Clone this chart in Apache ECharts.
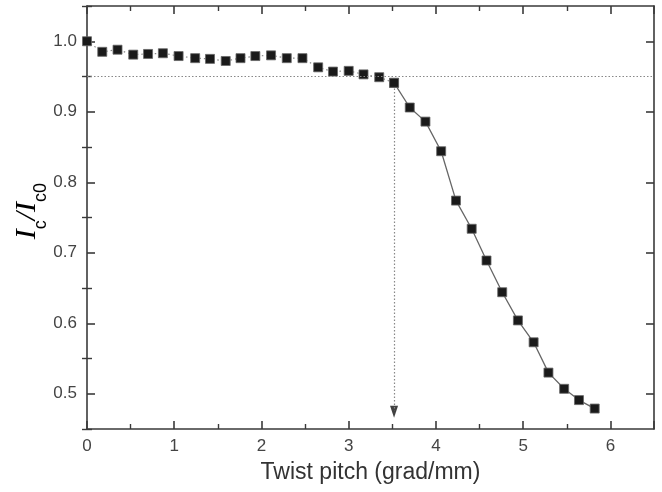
<!DOCTYPE html>
<html>
<head>
<meta charset="utf-8">
<script src="https://cdn.jsdelivr.net/npm/echarts@6/dist/echarts.min.js"></script>
<style>html,body{margin:0;padding:0;background:#fff}#c{width:662px;height:492px}</style>
</head>
<body>
<div id="c"></div>
<script>
// Plateau region (dotted connector)
var xFlat = [0, 0.175, 0.35, 0.53, 0.70, 0.87, 1.05, 1.24, 1.41, 1.59, 1.76, 1.93, 2.11, 2.29, 2.47, 2.65, 2.82, 3.00, 3.17, 3.35, 3.52];
var yFlat = [1.0, 0.985, 0.988, 0.981, 0.982, 0.983, 0.979, 0.976, 0.975, 0.972, 0.976, 0.979, 0.980, 0.976, 0.976, 0.963, 0.957, 0.958, 0.953, 0.949, 0.941];
// Degradation region (solid connector)
var xDrop = [3.52, 3.70, 3.88, 4.06, 4.23, 4.41, 4.58, 4.76, 4.94, 5.12, 5.29, 5.47, 5.64, 5.82];
var yDrop = [0.941, 0.906, 0.886, 0.844, 0.774, 0.734, 0.689, 0.644, 0.604, 0.573, 0.530, 0.507, 0.491, 0.479];
var criterion = 0.95;
var criticalPitch = 3.52;
var arrowTip = 0.466;
var xTicks = [0, 1, 2, 3, 4, 5, 6];
var yTicks = [0.5, 0.6, 0.7, 0.8, 0.9, 1.0];
var yMinorTicks = [0.45, 0.55, 0.65, 0.75, 0.85, 0.95, 1.05];

function pairs(xs, ys) { return xs.map(function (x, i) { return [x, ys[i]]; }); }

var chart = echarts.init(document.getElementById('c'), null, { renderer: 'canvas' });
var axisCol = '#3a3a3a';
var labelFont = { color: '#444', fontSize: 17, fontFamily: 'Liberation Sans, Arial, sans-serif' };

function xAx(pos, show) {
  return {
    type: 'value', position: pos, min: 0, max: 6.5, interval: 1,
    axisLine: { show: true, onZero: false, lineStyle: { color: axisCol, width: 1.6 } },
    axisTick: { show: true, inside: true, length: 8, lineStyle: { color: axisCol, width: 1.6 } },
    minorTick: { show: true, splitNumber: 2, length: 5, lineStyle: { color: axisCol, width: 1.4 } },
    axisLabel: Object.assign({ show: show, margin: 9, formatter: function (v) { return xTicks.indexOf(v) >= 0 ? String(v) : ''; } }, labelFont),
    splitLine: { show: false },
    name: show ? 'Twist pitch (grad/mm)' : '', nameLocation: 'middle', nameGap: 32,
    nameTextStyle: { color: '#333', fontSize: 23, fontFamily: 'Liberation Sans, Arial, sans-serif' }
  };
}
function yAx(pos, show) {
  return {
    type: 'value', position: pos, min: 0.45, max: 1.05,
    axisLine: { show: true, onZero: false, lineStyle: { color: axisCol, width: 1.6 } },
    axisTick: { show: true, inside: true, length: 8, customValues: yTicks, lineStyle: { color: axisCol, width: 1.6 } },
    axisLabel: Object.assign({ show: show, margin: 10, customValues: yTicks, formatter: function (v) { return v.toFixed(1); } }, labelFont),
    splitLine: { show: false }
  };
}
function yMinor(pos) {
  return {
    type: 'value', position: pos, min: 0.45, max: 1.05,
    axisLine: { show: false },
    axisTick: { show: true, inside: true, length: 5, customValues: yMinorTicks, lineStyle: { color: axisCol, width: 1.4 } },
    axisLabel: { show: false },
    splitLine: { show: false }
  };
}

chart.setOption({
  animation: false,
  backgroundColor: '#fff',
  grid: { left: 87, right: 8, top: 6, bottom: 63, containLabel: false },
  xAxis: [xAx('bottom', true), xAx('top', false)],
  yAxis: [yAx('left', true), yAx('right', false), yMinor('left'), yMinor('right')],
  graphic: [{
    type: 'text', left: 12, top: 183, rotation: Math.PI / 2,
    style: {
      text: '{i|I}{s|c}{i|/I}{s|c0}',
      rich: {
        i: { fontFamily: 'Liberation Serif, Times New Roman, serif', fontStyle: 'italic', fontSize: 30, color: '#333', verticalAlign: 'bottom', lineHeight: 32 },
        s: { fontFamily: 'Liberation Sans, Arial, sans-serif', fontSize: 18, color: '#333', verticalAlign: 'bottom', lineHeight: 32, padding: [0, 0, -8, 0] }
      }
    }
  }],
  series: [
    {
      type: 'line', data: pairs(xFlat, yFlat), symbol: 'rect', symbolSize: 9,
      itemStyle: { color: '#1a1a1a', borderColor: '#666', borderWidth: 0.8 },
      lineStyle: { color: '#888', width: 1.2, type: [1.5, 3] },
      z: 3,
      markLine: {
        silent: true, animation: false, symbol: 'none',
        label: { show: false },
        data: [
          [{ coord: [0, criterion] }, { coord: [6.5, criterion] }],
          [{ coord: [criticalPitch, yFlat[yFlat.length - 1] - 0.008] }, { coord: [criticalPitch, arrowTip + 0.01] }]
        ],
        lineStyle: { color: '#888', width: 1.2, type: [1.5, 2] }
      }
    },
    {
      type: 'line', data: pairs(xDrop, yDrop), symbol: 'rect', symbolSize: 9,
      itemStyle: { color: '#1a1a1a', borderColor: '#666', borderWidth: 0.8 },
      lineStyle: { color: '#666', width: 1.3 },
      z: 3
    },
    {
      type: 'scatter', data: [[criticalPitch, arrowTip]], symbol: 'triangle', symbolRotate: 180,
      symbolSize: [8, 12], symbolOffset: [0, -6], itemStyle: { color: '#111' }, silent: true, z: 4
    }
  ]
});
</script>
</body>
</html>
